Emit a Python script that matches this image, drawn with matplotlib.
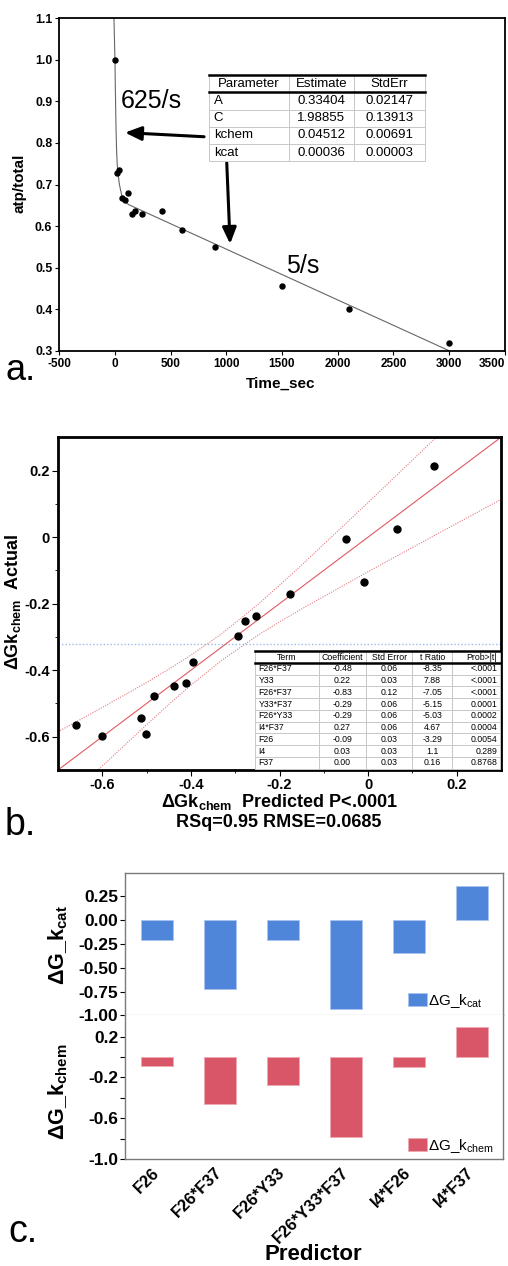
import matplotlib
matplotlib.use("Agg")
import matplotlib.pyplot as plt
from matplotlib.table import Table
from matplotlib.ticker import FixedLocator

plt.rcParams['font.family'] = ['Liberation Sans', 'DejaVu Sans']
plt.rcParams['mathtext.fontset'] = 'custom'
plt.rcParams['mathtext.rm'] = 'Liberation Sans'
plt.rcParams['mathtext.bf'] = 'Liberation Sans:bold'
plt.rcParams['mathtext.it'] = 'Liberation Sans:italic'
plt.rcParams['axes.unicode_minus'] = False

# ---- panel a data ----
time_sec = [0, 20, 40, 60, 90, 120, 150, 180, 240, 420, 600, 900, 1500, 2100, 3000]
atp_total = [1.0, 0.728, 0.735, 0.668, 0.663, 0.68, 0.63, 0.637, 0.63, 0.636, 0.59, 0.55, 0.455, 0.40, 0.318]
fit_t = [-9, 0, 3, 6, 10, 15, 20, 28, 40, 60, 90, 120, 3000]
fit_atp = [1.1, 1.0, 0.94, 0.89, 0.83, 0.78, 0.75, 0.725, 0.70, 0.675, 0.66, 0.652, 0.30]
a_xticks = [-500, 0, 500, 1000, 1500, 2000, 2500, 3000, 3500]
a_yticks = [0.3, 0.4, 0.5, 0.6, 0.7, 0.8, 0.9, 1.0, 1.1]
param_cols = ['Parameter', 'Estimate', 'StdErr']
param_rows = [['A', '0.33404', '0.02147'],
              ['C', '1.98855', '0.13913'],
              ['kchem', '0.04512', '0.00691'],
              ['kcat', '0.00036', '0.00003']]

# ---- panel b data ----
pred = [-0.660, -0.600, -0.512, -0.502, -0.483, -0.438, -0.412, -0.395, -0.293, -0.278,
        -0.254, -0.176, -0.050, -0.010, 0.066, 0.148]
actual = [-0.566, -0.598, -0.545, -0.591, -0.477, -0.448, -0.440, -0.374, -0.296, -0.252,
          -0.238, -0.172, -0.005, -0.136, 0.023, 0.213]
fit_x = [-0.7, 0.3]
fit_y = [-0.7, 0.3]
band_x = [-0.70, -0.60, -0.50, -0.45, -0.40, -0.33, -0.25, -0.20, -0.15, 0.0, 0.15, 0.30]
band_hi = [-0.585, -0.512, -0.437, -0.397, -0.355, -0.29, -0.204, -0.145, -0.084, 0.104, 0.295, 0.487]
band_lo = [-0.815, -0.688, -0.564, -0.503, -0.445, -0.37, -0.296, -0.255, -0.216, -0.104, 0.005, 0.113]
mean_actual = -0.32
b_ticks = [-0.6, -0.4, -0.2, 0, 0.2]
b_ticklabels = ['-0.6', '-0.4', '-0.2', '0', '0.2']
term_cols = ['Term', 'Coefficient', 'Std Error', 't Ratio', 'Prob>|t|']
term_rows = [['F26*F37', '-0.48', '0.06', '-8.35', '<.0001'],
             ['Y33', '0.22', '0.03', '7.88', '<.0001'],
             ['F26*F37', '-0.83', '0.12', '-7.05', '<.0001'],
             ['Y33*F37', '-0.29', '0.06', '-5.15', '0.0001'],
             ['F26*Y33', '-0.29', '0.06', '-5.03', '0.0002'],
             ['I4*F37', '0.27', '0.06', '4.67', '0.0004'],
             ['F26', '-0.09', '0.03', '-3.29', '0.0054'],
             ['I4', '0.03', '0.03', '1.1', '0.289'],
             ['F37', '0.00', '0.03', '0.16', '0.8768']]

# ---- panel c data ----
predictors = ['F26', 'F26*F37', 'F26*Y33', 'F26*Y33*F37', 'I4*F26', 'I4*F37']
dg_kcat = [-0.21, -0.725, -0.207, -0.935, -0.343, 0.36]
dg_kchem = [-0.092, -0.459, -0.269, -0.787, -0.095, 0.295]
kcat_ticks = [0.25, 0.0, -0.25, -0.5, -0.75, -1.0]
kcat_ticklabels = ['0.25', '0.00', '-0.25', '-0.50', '-0.75', '-1.00']
kchem_ticks = [0.2, -0.2, -0.6, -1.0]
kchem_ticklabels = ['0.2', '-0.2', '-0.6', '-1.0']
kchem_minor = [0.0, -0.4, -0.8]

BLUE = '#5086d9'
RED = '#d95668'


def make_table(ax, cols, rows, bbox, widths, header_locs, row_locs, fs, edge):
    tab = Table(ax, bbox=bbox)
    nrows = len(rows) + 1
    h = 1.0 / nrows
    for c, name in enumerate(cols):
        tab.add_cell(0, c, widths[c], h, text=name, loc=header_locs[c],
                     edgecolor=edge, facecolor='white')
    for r, row in enumerate(rows):
        for c, val in enumerate(row):
            tab.add_cell(r + 1, c, widths[c], h, text=val, loc=row_locs[c],
                         edgecolor=edge, facecolor='white')
    tab.auto_set_font_size(False)
    tab.set_fontsize(fs)
    for cell in tab.get_celld().values():
        cell.set_linewidth(0.7)
        cell.PAD = 0.06
    tab.set_zorder(5)
    ax.add_table(tab)
    x0, y0, w, hh = bbox
    ytop = y0 + hh
    yhead = y0 + hh * (1 - 1.0 / nrows)
    for yy in (ytop, yhead):
        ax.plot([x0, x0 + w], [yy, yy], transform=ax.transAxes, color='black',
                lw=1.8, clip_on=False, zorder=6)
    return tab


fig = plt.figure(figsize=(5.08, 12.66), dpi=100)

# ================= panel a =================
ax = fig.add_axes([0.1167, 0.7230, 0.8768, 0.2625])
ax.plot(fit_t, fit_atp, color='#666666', lw=0.8)
ax.plot(time_sec, atp_total, 'o', color='black', ms=3.6)
ax.set_xlim(-500, 3500)
ax.set_ylim(0.3, 1.1)
ax.set_xticks(a_xticks)
ax.set_xticklabels([str(v) for v in a_xticks])
ax.set_yticks(a_yticks)
ax.set_yticklabels(['%.1f' % v for v in a_yticks])
ax.tick_params(axis='x', labelsize=8.5, direction='out', length=3, width=0.8, pad=2)
ax.tick_params(axis='y', labelsize=8.8, direction='out', length=3, width=0.8, pad=2)
for lab in ax.get_xticklabels() + ax.get_yticklabels():
    lab.set_fontweight('bold')
ax.get_xticklabels()[-1].set_ha('right')
for s in ax.spines.values():
    s.set_linewidth(1.3)
ax.set_xlabel('Time_sec', fontsize=11, fontweight='bold')
ax.set_ylabel('atp/total', fontsize=11, fontweight='bold')
ax.xaxis.set_label_coords(0.498, -0.079)
ax.yaxis.set_label_coords(-0.073, 0.504)
make_table(ax, param_cols, param_rows, [0.336, 0.570, 0.484, 0.259],
           [238, 196, 210], ['center', 'center', 'center'],
           ['left', 'center', 'center'], 9.5, '#c8c8c8')
ax.text(50, 0.885, '625/s', fontsize=18)
ax.text(1540, 0.487, '5/s', fontsize=18)
arrow = dict(arrowstyle='-|>,head_length=0.7,head_width=0.3', color='black',
             lw=2.2, mutation_scale=14, shrinkA=0, shrinkB=0)
ax.annotate('', xy=(90, 0.825), xytext=(800, 0.815), arrowprops=arrow)
ax.annotate('', xy=(1034, 0.557), xytext=(1004, 0.752), arrowprops=arrow)
fig.text(0.040, 0.707, 'a.', fontsize=26, ha='center', va='center')

# ================= panel b =================
bx = fig.add_axes([0.1142, 0.3918, 0.8720, 0.2628])
bx.axhline(mean_actual, color='#9cbbe8', lw=1.0, ls=(0, (1, 1.5)), zorder=1)
bx.plot(band_x, band_hi, color='#e37d82', lw=0.8, ls=(0, (1, 1.2)))
bx.plot(band_x, band_lo, color='#e37d82', lw=0.8, ls=(0, (1, 1.2)))
bx.plot(fit_x, fit_y, color='#e05a60', lw=0.8)
bx.plot(pred, actual, 'o', color='black', ms=5)
bx.set_xlim(-0.7, 0.3)
bx.set_ylim(-0.7, 0.3)
bx.set_xticks(b_ticks)
bx.set_xticklabels(b_ticklabels)
bx.set_yticks(b_ticks)
bx.set_yticklabels(b_ticklabels)
bx.xaxis.set_minor_locator(FixedLocator([-0.5, -0.3, -0.1, 0.1]))
bx.yaxis.set_minor_locator(FixedLocator([-0.5, -0.3, -0.1, 0.1]))
bx.tick_params(which='major', labelsize=10.5, direction='out', length=4, width=0.8, pad=2)
bx.tick_params(which='minor', direction='out', length=2.5, width=0.6)
for lab in bx.get_xticklabels() + bx.get_yticklabels():
    lab.set_fontweight('bold')
for s in bx.spines.values():
    s.set_linewidth(2.0)
bx.set_ylabel(r'ΔGk$_{\mathbf{chem}}$  Actual', fontsize=13, fontweight='bold')
bx.yaxis.set_label_coords(-0.080, 0.505)
make_table(bx, term_cols, term_rows, [0.444, 0.004, 0.554, 0.353],
           [64, 48, 46, 40, 48],
           ['center', 'center', 'center', 'center', 'right'],
           ['left', 'center', 'center', 'center', 'right'], 6.3, '#c8c8c8')
fig.text(0.549, 0.3665, r'ΔGk$_{\mathbf{chem}}$  Predicted P<.0001', fontsize=13,
         fontweight='bold', ha='center', va='center')
fig.text(0.549, 0.3505, 'RSq=0.95 RMSE=0.0685', fontsize=13, fontweight='bold',
         ha='center', va='center')
fig.text(0.039, 0.348, 'b.', fontsize=27, ha='center', va='center')

# ================= panel c =================
cx1 = fig.add_axes([0.2467, 0.1980, 0.7441, 0.1127])
cx2 = fig.add_axes([0.2467, 0.0845, 0.7441, 0.1135], sharex=cx1)
xpos = list(range(len(predictors)))
cx1.bar(xpos, dg_kcat, width=0.5, color=BLUE, edgecolor='#a9c4ee', lw=0.6,
        label=r'ΔG_k$_{\mathrm{cat}}$')
cx2.bar(xpos, dg_kchem, width=0.5, color=RED, edgecolor='#eea9b2', lw=0.6,
        label=r'ΔG_k$_{\mathrm{chem}}$')
cx1.set_xlim(-0.5, 5.5)
cx1.set_ylim(-1.0, 0.5)
cx2.set_ylim(-1.0, 0.41)
cx1.set_yticks(kcat_ticks)
cx1.set_yticklabels(kcat_ticklabels)
cx2.set_yticks(kchem_ticks)
cx2.set_yticklabels(kchem_ticklabels)
cx2.yaxis.set_minor_locator(FixedLocator(kchem_minor))
cx2.set_xticks(xpos)
cx2.set_xticklabels(predictors, rotation=45, ha='right', va='center',
                    rotation_mode='anchor')
cx1.tick_params(axis='x', which='both', bottom=False, labelbottom=False)
for a in (cx1, cx2):
    a.tick_params(axis='y', which='major', labelsize=12.5, direction='out',
                  length=3.5, width=0.8, pad=1.5)
    a.tick_params(axis='y', which='minor', direction='out', length=3.5, width=0.8)
    for s in a.spines.values():
        s.set_color('#7a7a7a')
        s.set_linewidth(1.0)
    for lab in a.get_yticklabels():
        lab.set_fontweight('bold')
cx1.spines['bottom'].set_color('#d6d6d6')
cx2.spines['top'].set_visible(False)
cx2.tick_params(axis='x', labelsize=12, length=0, pad=8)
for lab in cx2.get_xticklabels():
    lab.set_fontweight('bold')
cx1.set_ylabel(r'ΔG_k$_{\mathbf{cat}}$', fontsize=15.5, fontweight='bold')
cx2.set_ylabel(r'ΔG_k$_{\mathbf{chem}}$', fontsize=15.5, fontweight='bold')
cx1.yaxis.set_label_coords(-0.146, 0.49)
cx2.yaxis.set_label_coords(-0.146, 0.47)
cx1.legend(loc='lower left', bbox_to_anchor=(0.745, 0.03), frameon=False,
           fontsize=11, handlelength=1.2, handleheight=0.9, handletextpad=0.1,
           borderaxespad=0.0, borderpad=0.1)
cx2.legend(loc='lower left', bbox_to_anchor=(0.745, 0.02), frameon=False,
           fontsize=11, handlelength=1.2, handleheight=0.9, handletextpad=0.1,
           borderaxespad=0.0, borderpad=0.1)
fig.text(0.616, 0.009, 'Predictor', fontsize=16, fontweight='bold',
         ha='center', va='center')
fig.text(0.045, 0.027, 'c.', fontsize=27, ha='center', va='center')

fig.savefig('out.png', dpi=100)
